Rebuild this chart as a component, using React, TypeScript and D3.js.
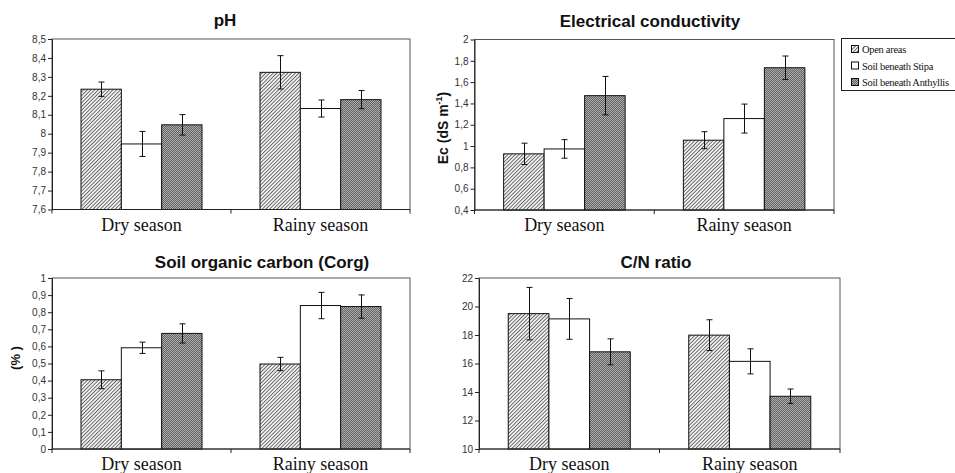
import React, { useRef, useEffect } from 'react';
import * as d3 from 'd3';

const seasons = ['Dry season', 'Rainy season'];
const treatments = ['Open areas', 'Soil beneath Stipa', 'Soil beneath Anthyllis'];

// means and standard errors, one array per season in treatment order
const phDry = [8.235, 7.946, 8.047];
const phRainy = [8.324, 8.133, 8.18];
const phDryErr = [0.038, 0.066, 0.054];
const phRainyErr = [0.088, 0.045, 0.048];
const phTicks = [7.6, 7.7, 7.8, 7.9, 8, 8.1, 8.2, 8.3, 8.4, 8.5];

const ecDry = [0.927, 0.973, 1.473];
const ecRainy = [1.055, 1.258, 1.735];
const ecDryErr = [0.1, 0.087, 0.18];
const ecRainyErr = [0.08, 0.136, 0.11];
const ecTicks = [0.4, 0.6, 0.8, 1, 1.2, 1.4, 1.6, 1.8, 2];

const corgDry = [0.405, 0.592, 0.676];
const corgRainy = [0.497, 0.839, 0.833];
const corgDryErr = [0.052, 0.033, 0.056];
const corgRainyErr = [0.039, 0.077, 0.068];
const corgTicks = [0, 0.1, 0.2, 0.3, 0.4, 0.5, 0.6, 0.7, 0.8, 0.9, 1];

const cnDry = [19.5, 19.13, 16.82];
const cnRainy = [17.99, 16.15, 13.7];
const cnDryErr = [1.84, 1.43, 0.91];
const cnRainyErr = [1.08, 0.88, 0.51];
const cnTicks = [10, 12, 14, 16, 18, 20, 22];

const comma = d3.formatLocale({ decimal: ',', thousands: '.', grouping: [3], currency: ['', ''] });

const SANS = 'Liberation Sans, Arial, sans-serif';
const SERIF = 'Liberation Serif, Times New Roman, serif';
const fills = ['url(#hatch)', '#ffffff', 'url(#dots)'];

const panels = [
  { title: 'pH', titleX: 225, titleY: 26, left: 52, right: 410, top: 39, bottom: 209.5,
    means: [phDry, phRainy], errs: [phDryErr, phRainyErr], ticks: phTicks, fmt: '.1~f' },
  { title: 'Electrical conductivity', titleX: 650, titleY: 27, left: 474.5, right: 834, top: 39.5, bottom: 210,
    means: [ecDry, ecRainy], errs: [ecDryErr, ecRainyErr], ticks: ecTicks, fmt: '.1~f' },
  { title: 'Soil organic carbon (Corg)', titleX: 262, titleY: 268, left: 52, right: 410, top: 278, bottom: 449,
    means: [corgDry, corgRainy], errs: [corgDryErr, corgRainyErr], ticks: corgTicks, fmt: '.1~f' },
  { title: 'C/N ratio', titleX: 656, titleY: 268, left: 479, right: 840, top: 278, bottom: 449,
    means: [cnDry, cnRainy], errs: [cnDryErr, cnRainyErr], ticks: cnTicks, fmt: 'd' },
];

function App() {
  const chartRef = useRef(null);

  useEffect(() => {
    drawChart();
  }, []);

  const drawChart = () => {
    const svg = d3.select(chartRef.current);
    svg.selectAll('*').remove();

    const defs = svg.append('defs');
    const hatch = defs.append('pattern')
      .attr('id', 'hatch')
      .attr('patternUnits', 'userSpaceOnUse')
      .attr('width', 2.6)
      .attr('height', 2.6)
      .attr('patternTransform', 'rotate(45)');
    hatch.append('rect').attr('width', 2.6).attr('height', 2.6).attr('fill', '#f6f6f6');
    hatch.append('line')
      .attr('x1', 0.5).attr('y1', 0).attr('x2', 0.5).attr('y2', 2.6)
      .attr('stroke', '#444').attr('stroke-width', 0.8);

    const dots = defs.append('pattern')
      .attr('id', 'dots')
      .attr('patternUnits', 'userSpaceOnUse')
      .attr('width', 2)
      .attr('height', 2);
    dots.append('rect').attr('width', 2).attr('height', 2).attr('fill', '#636363');
    dots.append('rect').attr('x', 0).attr('y', 0).attr('width', 1).attr('height', 1).attr('fill', '#adadad');
    dots.append('rect').attr('x', 1).attr('y', 1).attr('width', 1).attr('height', 1).attr('fill', '#adadad');

    panels.forEach(p => {
      const x = d3.scaleBand()
        .domain(seasons)
        .range([p.left, p.right])
        .paddingInner(0.324)
        .paddingOuter(0.162);
      const xs = d3.scaleBand()
        .domain(treatments)
        .range([0, x.bandwidth()]);
      const y = d3.scaleLinear()
        .domain([p.ticks[0], p.ticks[p.ticks.length - 1]])
        .range([p.bottom, p.top]);

      const g = svg.append('g');

      // plot frame
      g.append('rect')
        .attr('x', p.left)
        .attr('y', p.top)
        .attr('width', p.right - p.left)
        .attr('height', p.bottom - p.top)
        .attr('fill', 'none')
        .attr('stroke', '#555');

      // bars
      seasons.forEach((s, i) => {
        treatments.forEach((t, j) => {
          const v = p.means[i][j];
          const e = p.errs[i][j];
          const bx = x(s) + xs(t);
          g.append('rect')
            .attr('x', bx)
            .attr('y', y(v))
            .attr('width', xs.bandwidth())
            .attr('height', y(p.ticks[0]) - y(v))
            .attr('fill', fills[j])
            .attr('stroke', '#111')
            .attr('stroke-width', 1);

          const cx = Math.round(bx + xs.bandwidth() / 2) + 0.5;
          g.append('line')
            .attr('x1', cx).attr('x2', cx)
            .attr('y1', y(v + e)).attr('y2', y(v - e))
            .attr('stroke', '#111');
          [v + e, v - e].forEach(c => {
            g.append('line')
              .attr('x1', cx - 3).attr('x2', cx + 3)
              .attr('y1', y(c)).attr('y2', y(c))
              .attr('stroke', '#111');
          });
        });
      });

      // y axis
      const ya = g.append('g')
        .attr('transform', `translate(${p.left},0)`)
        .call(d3.axisLeft(y)
          .tickValues(p.ticks)
          .tickSize(4)
          .tickSizeOuter(0)
          .tickPadding(2)
          .tickFormat(comma.format(p.fmt)));
      ya.select('.domain').attr('stroke', '#222');
      ya.selectAll('line').attr('stroke', '#222');
      ya.selectAll('text')
        .attr('font-family', SANS)
        .attr('font-size', 10)
        .attr('fill', '#333');

      // x axis with ticks between categories
      g.append('line')
        .attr('x1', p.left).attr('x2', p.right)
        .attr('y1', p.bottom).attr('y2', p.bottom)
        .attr('stroke', '#222');
      d3.range(seasons.length + 1).forEach(k => {
        const tx = p.left + k * x.step();
        g.append('line')
          .attr('x1', tx).attr('x2', tx)
          .attr('y1', p.bottom).attr('y2', p.bottom + 4)
          .attr('stroke', '#222');
      });
      seasons.forEach(s => {
        g.append('text')
          .attr('x', x(s) + x.bandwidth() / 2)
          .attr('y', p.bottom + 21)
          .attr('text-anchor', 'middle')
          .attr('font-family', SERIF)
          .attr('font-size', 18)
          .attr('fill', '#111')
          .text(s);
      });

      g.append('text')
        .attr('x', p.titleX)
        .attr('y', p.titleY)
        .attr('text-anchor', 'middle')
        .attr('font-family', SANS)
        .attr('font-weight', 'bold')
        .attr('font-size', 17)
        .attr('fill', '#111')
        .text(p.title);
    });

    // y axis titles
    const ec = svg.append('text')
      .attr('transform', 'translate(448,128) rotate(-90)')
      .attr('text-anchor', 'middle')
      .attr('font-family', SANS)
      .attr('font-weight', 'bold')
      .attr('font-size', 14)
      .attr('fill', '#111');
    ec.append('tspan').text('Ec (dS m');
    ec.append('tspan').attr('font-size', 9).attr('dy', -6).text('-1');
    ec.append('tspan').attr('dy', 6).text(')');

    svg.append('text')
      .attr('transform', 'translate(20,358) rotate(-90)')
      .attr('text-anchor', 'middle')
      .attr('font-family', SANS)
      .attr('font-weight', 'bold')
      .attr('font-size', 13)
      .attr('fill', '#111')
      .text('(% )');

    // legend
    const legend = svg.append('g');
    legend.append('rect')
      .attr('x', 841.5)
      .attr('y', 38.5)
      .attr('width', 130)
      .attr('height', 52)
      .attr('fill', '#ffffff')
      .attr('stroke', '#222');
    treatments.forEach((t, j) => {
      const ly = 49 + j * 16.5;
      legend.append('rect')
        .attr('x', 851.5)
        .attr('y', ly - 3.5)
        .attr('width', 7)
        .attr('height', 7)
        .attr('fill', fills[j])
        .attr('stroke', '#111');
      legend.append('text')
        .attr('x', 862)
        .attr('y', ly + 4)
        .attr('font-family', SERIF)
        .attr('font-size', 10.5)
        .attr('letter-spacing', -0.3)
        .attr('fill', '#111')
        .text(t);
    });
  };

  return (
    <svg ref={chartRef} width={955} height={473}
      style={{ position: 'absolute', left: 0, top: 0, background: '#ffffff' }}></svg>
  );
}

export default App;
